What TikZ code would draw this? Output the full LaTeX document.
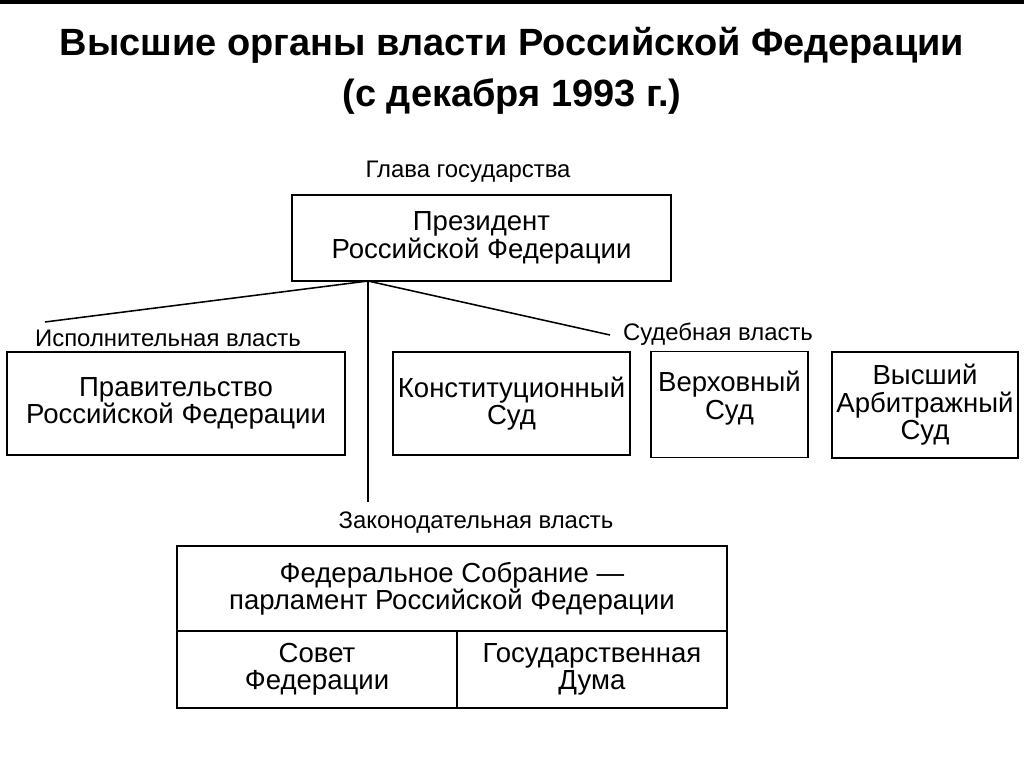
\documentclass[tikz,border=0pt]{standalone}
\usepackage{fontspec}
\setmainfont{Liberation Sans}
\usepackage{tikz}

\begin{document}
\begin{tikzpicture}[x=0.025cm, y=-0.025cm,
  organ_box/.style={rectangle, draw, line width=1.1pt, align=center, inner sep=1pt,
    font=\fontsize{19.6}{19.5}\selectfont},
  branch_label/.style={inner sep=0pt, font=\fontsize{17}{18}\selectfont},
  title_text/.style={align=center, font=\fontsize{27}{36}\selectfont\bfseries}]

\useasboundingbox (0,0) rectangle (1024,767);
\fill (0,0) rectangle (1024,4);

\node[title_text] (title) at (512, 71) {Высшие органы власти Российской Федерации\\(с декабря 1993 г.)};

\node[branch_label] (head) at (468, 172) {Глава государства};
\node[organ_box, minimum width=9.475cm, minimum height=2.15cm] (president) at (481.5, 238) {Президент\\Российской Федерации};

\node[branch_label] (exec) at (168, 338) {Исполнительная власть};
\node[branch_label] (judicial) at (718, 334) {Судебная власть};
\node[branch_label] (legis) at (476, 523) {Законодательная власть};

\node[organ_box, minimum width=8.45cm, minimum height=2.575cm] (government) at (176, 403.5) {Правительство\\Российской Федерации};
\node[organ_box, minimum width=5.925cm, minimum height=2.575cm] (constcourt) at (511.5, 403.5) {Конституционный\\Суд};
\node[organ_box, minimum width=3.925cm, minimum height=2.65cm, anchor=north] (supreme) at (729.5, 350.5) {\\[-14pt]Верховный\\Суд};
\node[organ_box, minimum width=4.65cm, minimum height=2.65cm] (arbitr) at (925, 405) {Высший\\Арбитражный\\Суд};

\node[organ_box, minimum width=13.75cm, minimum height=2.125cm] (assembly) at (452, 588.5) {Федеральное Собрание —\\парламент Российской Федерации};
\node[organ_box, minimum width=7cm, minimum height=1.925cm] (sovet) at (317, 669.5) {Совет\\Федерации};
\node[organ_box, minimum width=6.75cm, minimum height=1.925cm] (duma) at (592, 669.5) {Государственная\\Дума};

\coordinate (root) at (368, 281);
\coordinate (exec_end) at (45, 322);
\coordinate (jud_end) at (610, 335);
\coordinate (legis_end) at (368, 502);

 \path[draw, line width=1.1pt]
(root) edge (exec_end)
(root) edge (jud_end)
(root) edge (legis_end)
;

\end{tikzpicture}
\end{document}
